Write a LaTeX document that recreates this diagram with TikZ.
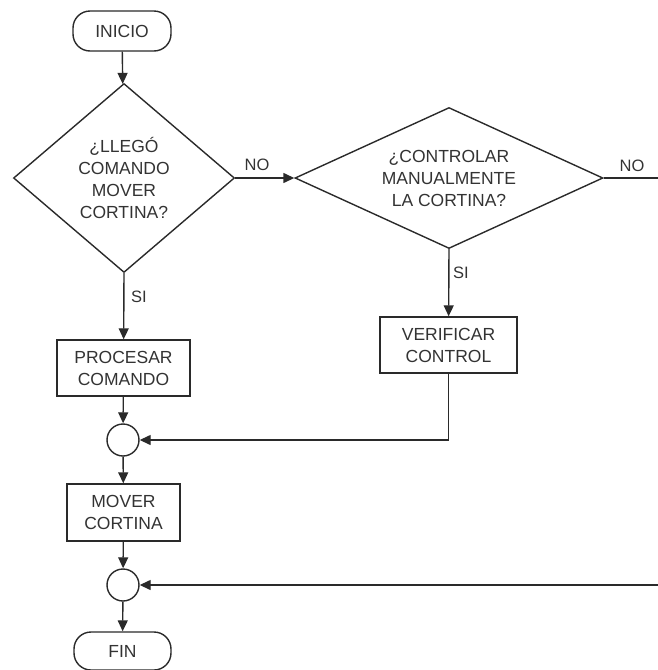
\documentclass[tikz,border=0pt]{standalone}
\usepackage{fontspec}
\setmainfont{Liberation Sans}
\usetikzlibrary{shapes.geometric,arrows.meta}
\definecolor{ink}{HTML}{2A2A2A}
\definecolor{txt}{HTML}{333333}
\tikzset{
  lbl/.style={font=\fontsize{17.5}{22}\selectfont, text=txt, align=center},
  terminal/.style={lbl, draw=ink, line width=1.4pt, rounded corners=17pt, inner sep=0pt},
  process/.style={lbl, draw=ink, line width=1.4pt, inner sep=0pt},
  decision/.style={lbl, draw=ink, line width=1.4pt, diamond, inner sep=0pt},
  joint/.style={draw=ink, line width=1.4pt, circle, inner sep=0pt, minimum size=32pt},
  flow/.style={draw=ink, line width=1.4pt, -{Triangle[length=11pt,width=10pt]}},
  plain/.style={draw=ink, line width=1.4pt},
  tag/.style={font=\fontsize{16.5}{20}\selectfont, text=txt, inner sep=0pt}
}
\begin{document}
\begin{tikzpicture}[x=1pt,y=-1pt]
  \useasboundingbox (0,0) rectangle (658,670);

  % shapes
  \node[terminal, minimum width=98pt, minimum height=40pt] (ini) at (122,31) {INICIO};
  \node[decision, shape aspect=1.17, minimum width=221pt, minimum height=189pt] (d1) at (124,178)
       {¿LLEGÓ\\COMANDO\\MOVER\\CORTINA?};
  \node[decision, shape aspect=2.18, minimum width=308pt, minimum height=141pt] (d2) at (449,178)
       {¿CONTROLAR\\MANUALMENTE\\LA CORTINA?};
  \node[process, minimum width=133pt, minimum height=56pt] (proc) at (123.5,368)
       {PROCESAR\\COMANDO};
  \node[process, minimum width=137pt, minimum height=56pt] (verif) at (448.5,345)
       {VERIFICAR\\CONTROL};
  \node[joint] (c1) at (123,440) {};
  \node[process, minimum width=113pt, minimum height=57pt] (mover) at (123.5,512.5)
       {MOVER\\CORTINA};
  \node[joint] (c2) at (123,585) {};
  \node[terminal, minimum width=97pt, minimum height=38pt] (fin) at (122.5,651) {FIN};

  % loose ends at the right border
  \coordinate (noexit) at (658,178);
  \coordinate (back) at (658,585);

  % connectors
  \draw[flow] (ini) -- (d1);
  \draw[flow] (d1.east) -- (d2.west);
  \draw[plain] (d2.east) -- (noexit);
  \draw[flow] (d1.south) -- (proc);
  \draw[flow] (d2.south) -- (verif);
  \draw[flow] (proc) -- (c1);
  \draw[flow] (verif.south) |- (c1.east);
  \draw[flow] (c1) -- (mover);
  \draw[flow] (mover) -- (c2);
  \draw[flow] (back) -- (c2.east);
  \draw[flow] (c2) -- (fin);

  % branch labels
  \node[tag] (no1) at (257,165) {NO};
  \node[tag] (no2) at (632,166) {NO};
  \node[tag] (si1) at (139,297) {SI};
  \node[tag] (si2) at (461,273) {SI};
\end{tikzpicture}
\end{document}
